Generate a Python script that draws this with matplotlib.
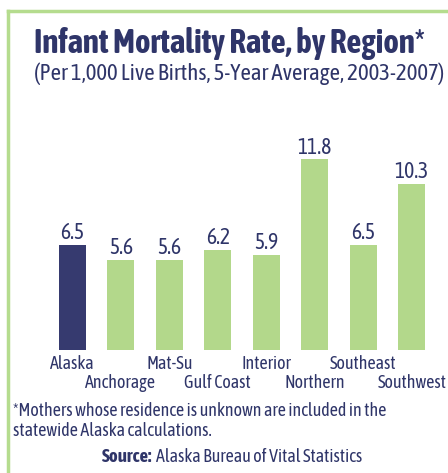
import matplotlib
matplotlib.use("Agg")
import matplotlib.pyplot as plt
from matplotlib.lines import Line2D

regions = ["Alaska", "Anchorage", "Mat-Su", "Gulf Coast", "Interior", "Northern", "Southeast", "Southwest"]
rates = [6.5, 5.6, 5.6, 6.2, 5.9, 11.8, 6.5, 10.3]
value_labels = ["6.5", "5.6", "5.6", "6.2", "5.9", "11.8", "6.5", "10.3"]

plt.rcParams['font.family'] = ['Asap Condensed', 'DejaVu Sans']

NAVY = "#363a6f"
GREEN = "#b3d88b"
TEXT = "#2f3569"
BORDER = "#b5dc8e"

W, H = 448, 473
fig = plt.figure(figsize=(W/100, H/100), dpi=100)

# border
fig.add_artist(Line2D([8/W, 8/W], [0, 1 - 11/H], color=BORDER, lw=2.5, transform=fig.transFigure))
fig.add_artist(Line2D([8/W, 1], [1 - 11/H, 1 - 11/H], color=BORDER, lw=2.5, transform=fig.transFigure))

ax_left, ax_right = 48, 436
ax_bottom, ax_top = 350, 148
ax = fig.add_axes([ax_left/W, 1 - ax_bottom/H, (ax_right-ax_left)/W, (ax_bottom-ax_top)/H])
x = list(range(len(regions)))
colors = [NAVY] + [GREEN]*(len(regions)-1)
ax.bar(x, rates, width=0.56, color=colors)
ax.set_xlim(-0.5, len(regions)-0.5)
ax.set_ylim(0, 12.5)
for i, (v, lab) in enumerate(zip(rates, value_labels)):
    ax.text(i, v + 0.05, lab, ha='center', va='bottom', fontsize=15.5, color=TEXT)
ax.set_xticks(x)
ax.set_xticklabels([])
ax.tick_params(length=0)
for s in ax.spines.values():
    s.set_visible(False)
ax.set_yticks([])
for i, r in enumerate(regions):
    y = -0.3 if i % 2 == 0 else -1.5
    ax.text(i, y, r, ha='center', va='top', fontsize=13, color=TEXT, clip_on=False)

fig.text(229/W, 1 - 43/H, "Infant Mortality Rate, by Region*", ha='center', va='center',
         fontsize=23.8, fontweight='bold', color=TEXT)
fig.text(239/W, 1 - 74/H, "(Per 1,000 Live Births, 5-Year Average, 2003-2007)", ha='center', va='center',
         fontsize=16.5, color=TEXT)
fig.text(13/W, 1 - 421/H, "*Mothers whose residence is unknown are included in the\nstatewide Alaska calculations.",
         ha='left', va='center', fontsize=13, color=TEXT, linespacing=1.1)
src = fig.text(102/W, 1 - 457/H, "Source:", ha='left', va='center', fontsize=13.5, fontweight='bold', color=TEXT)
fig.canvas.draw()
bb = src.get_window_extent()
fig.text((bb.x1 + 4)/W, 1 - 457/H, "Alaska Bureau of Vital Statistics", ha='left', va='center', fontsize=13, color=TEXT)

fig.savefig("out.png", dpi=100)
